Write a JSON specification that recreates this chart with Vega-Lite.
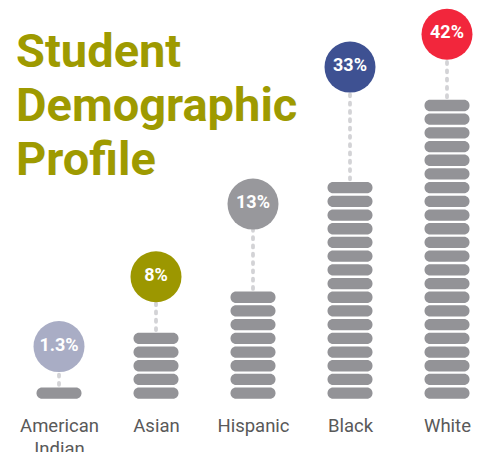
{
  "$schema": "https://vega.github.io/schema/vega-lite/v6.json",
  "width": 484,
  "height": 400,
  "autosize": {"type": "none"},
  "padding": {"left": 0, "right": 0, "top": 0, "bottom": 52},
  "background": "white",
  "title": {
    "text": ["Student", "Demographic", "Profile"],
    "anchor": "start",
    "frame": "group",
    "orient": "top",
    "offset": -185,
    "dx": 16,
    "font": "Roboto",
    "fontWeight": "bold",
    "fontSize": 47,
    "lineHeight": 54,
    "color": "#9e9a00"
  },
  "datasets": {
    "groups": [
      {"group": "American Indian", "share": "1.3%", "pills": 1, "marker": 4.4},
      {"group": "Asian", "share": "8%", "pills": 5, "marker": 9.5},
      {"group": "Hispanic", "share": "13%", "pills": 8, "marker": 14.8},
      {"group": "Black", "share": "33%", "pills": 16, "marker": 24.8},
      {"group": "White", "share": "42%", "pills": 22, "marker": 27.2}
    ],
    "pills": [
      {"group": "American Indian", "level": 1},
      {"group": "Asian", "level": 1}, {"group": "Asian", "level": 2}, {"group": "Asian", "level": 3}, {"group": "Asian", "level": 4}, {"group": "Asian", "level": 5},
      {"group": "Hispanic", "level": 1}, {"group": "Hispanic", "level": 2}, {"group": "Hispanic", "level": 3}, {"group": "Hispanic", "level": 4}, {"group": "Hispanic", "level": 5}, {"group": "Hispanic", "level": 6}, {"group": "Hispanic", "level": 7}, {"group": "Hispanic", "level": 8},
      {"group": "Black", "level": 1}, {"group": "Black", "level": 2}, {"group": "Black", "level": 3}, {"group": "Black", "level": 4}, {"group": "Black", "level": 5}, {"group": "Black", "level": 6}, {"group": "Black", "level": 7}, {"group": "Black", "level": 8}, {"group": "Black", "level": 9}, {"group": "Black", "level": 10}, {"group": "Black", "level": 11}, {"group": "Black", "level": 12}, {"group": "Black", "level": 13}, {"group": "Black", "level": 14}, {"group": "Black", "level": 15}, {"group": "Black", "level": 16},
      {"group": "White", "level": 1}, {"group": "White", "level": 2}, {"group": "White", "level": 3}, {"group": "White", "level": 4}, {"group": "White", "level": 5}, {"group": "White", "level": 6}, {"group": "White", "level": 7}, {"group": "White", "level": 8}, {"group": "White", "level": 9}, {"group": "White", "level": 10}, {"group": "White", "level": 11}, {"group": "White", "level": 12}, {"group": "White", "level": 13}, {"group": "White", "level": 14}, {"group": "White", "level": 15}, {"group": "White", "level": 16}, {"group": "White", "level": 17}, {"group": "White", "level": 18}, {"group": "White", "level": 19}, {"group": "White", "level": 20}, {"group": "White", "level": 21}, {"group": "White", "level": 22}
    ]
  },
  "encoding": {
    "x": {
      "field": "group",
      "type": "nominal",
      "sort": null,
      "scale": {"type": "point", "domain": ["American Indian", "Asian", "Hispanic", "Black", "White"], "range": [59, 447], "padding": 0},
      "axis": {
        "title": null,
        "domain": false,
        "ticks": false,
        "tickSize": 0,
        "grid": false,
        "labelAngle": 0,
        "labelPadding": 16,
        "labelFont": "Roboto",
        "labelFontSize": 18.5,
        "labelColor": "#595959",
        "labelLineHeight": 23,
        "labelExpr": "split(datum.label, ' ')"
      }
    }
  },
  "layer": [
    {
      "data": {"name": "groups"},
      "mark": {"type": "rule", "color": "#d3d3d6", "strokeWidth": 3.8, "strokeDash": [2, 6.3], "strokeCap": "round"},
      "encoding": {
        "y": {"field": "pills", "type": "quantitative", "scale": {"domain": [0.5, 29.7], "nice": false, "zero": false}, "axis": null},
        "y2": {"field": "marker"}
      }
    },
    {
      "data": {"name": "pills"},
      "mark": {"type": "tick", "thickness": 11.3, "size": 45, "cornerRadius": 5.5, "color": "#939397", "opacity": 1},
      "encoding": {
        "y": {"field": "level", "type": "quantitative"}
      }
    },
    {
      "data": {"name": "groups"},
      "mark": {"type": "point", "shape": "circle", "filled": true, "size": 2601, "opacity": 1},
      "encoding": {
        "y": {"field": "marker", "type": "quantitative"},
        "color": {
          "field": "group",
          "type": "nominal",
          "scale": {"domain": ["American Indian", "Asian", "Hispanic", "Black", "White"], "range": ["#a9adc5", "#9c9700", "#98989c", "#3e5192", "#f2263c"]},
          "legend": null
        }
      }
    },
    {
      "data": {"name": "groups"},
      "mark": {"type": "text", "color": "white", "font": "Roboto", "fontWeight": "bold", "fontSize": 18, "baseline": "middle", "align": "center", "dy": -1},
      "encoding": {
        "y": {"field": "marker", "type": "quantitative"},
        "text": {"field": "share"}
      }
    }
  ],
  "config": {"view": {"stroke": null}}
}
